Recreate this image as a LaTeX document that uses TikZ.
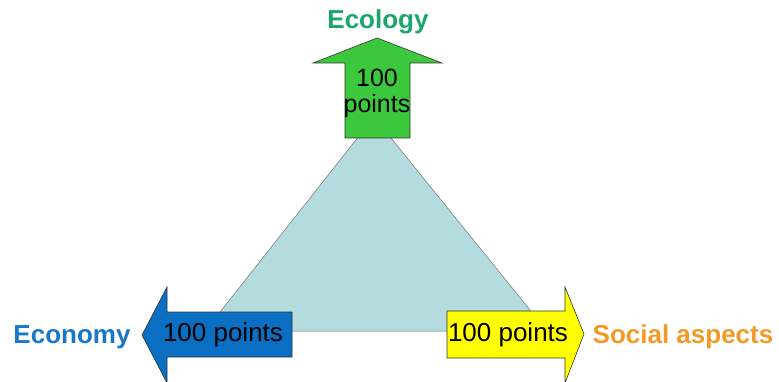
\documentclass[tikz,border=0pt]{standalone}
\usepackage{fontspec}
\setmainfont{Liberation Sans}
\definecolor{trifill}{HTML}{B4DCDF}
\definecolor{ecogreen}{HTML}{3CC83C}
\definecolor{ecoblue}{HTML}{0A6EC2}
\definecolor{socyellow}{HTML}{FFFF00}
\definecolor{lblgreen}{HTML}{19A86A}
\definecolor{lblblue}{HTML}{1878C8}
\definecolor{lblorange}{HTML}{F39A26}
\tikzset{
  arrowshape/.style={draw=black!80, line width=0.6pt, line join=miter},
  inner/.style={font=\fontsize{26}{26}\selectfont, text=black, align=center, inner sep=0pt},
  label/.style={font=\bfseries\fontsize{26}{27}\selectfont, inner sep=0pt}
}
\begin{document}
\begin{tikzpicture}[x=1pt,y=-1pt]
\useasboundingbox (0,0) rectangle (779,382);
% triangle
\coordinate (apex) at (374,117);
\coordinate (bl) at (205,331);
\coordinate (br) at (547,331);
\draw[fill=trifill, draw=black!55, line width=0.5pt] (apex) -- (bl) -- (br) -- cycle;
% green arrow (up)
\draw[arrowshape, fill=ecogreen] (345,138) -- (345,63) -- (313,63) -- (377,38) -- (442,63) -- (410,63) -- (410,138) -- cycle;
% blue arrow (left)
\draw[arrowshape, fill=ecoblue] (292,312) -- (167,312) -- (167,287) -- (142,335) -- (167,383) -- (167,357) -- (292,357) -- cycle;
% yellow arrow (right)
\draw[arrowshape, fill=socyellow] (447,311) -- (565,311) -- (565,287) -- (584,334) -- (565,383) -- (565,358) -- (447,358) -- cycle;
% inner texts
\node[inner, font=\fontsize{25}{26}\selectfont] (gtext) at (377,93) {100\\points};
\node[inner] (btext) at (223,335) {100 points};
\node[inner] (ytext) at (508,335) {100 points};
% labels
\node[label, text=lblgreen] (ecology) at (378,22) {Ecology};
\node[label, text=lblblue] (economy) at (72,337) {Economy};
\node[label, text=lblorange] (social) at (683,337) {Social aspects};
\end{tikzpicture}
\end{document}
